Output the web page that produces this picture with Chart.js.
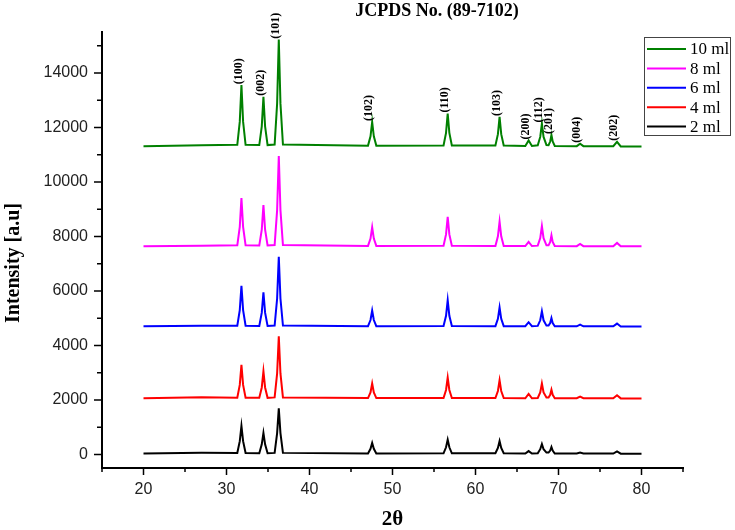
<!DOCTYPE html>
<html><head><meta charset="utf-8">
<script src="https://cdn.jsdelivr.net/npm/chart.js@4.4.0/dist/chart.umd.min.js"></script>
<style>
html,body{margin:0;padding:0;background:#fff}
#wrap{width:735px;height:530px;position:relative}
</style>
</head><body>
<div id="wrap"><canvas id="xrd"></canvas></div>
<script>
/* XRD patterns, ZnO films — volume series. Peaks. */

var ANGLES = [20, 27,
  31.3, 31.6, 31.8, 32.0, 32.3,
  33.95, 34.25, 34.45, 34.65, 34.95,
  35.8, 36.1, 36.3, 36.5, 36.8,
  47.05, 47.35, 47.55, 47.75, 48.05,
  56.15, 56.45, 56.65, 56.85, 57.15,
  62.4, 62.7, 62.9, 63.1, 63.4,
  66.0, 66.4, 66.8,
  67.5, 67.8, 68.0, 68.2, 68.55,
  68.8, 69.0, 69.15, 69.3, 69.55,
  72.2, 72.6, 73.0,
  76.6, 77.05, 77.5,
  80];

var I_10ML = [11310, 11340,
  11360, 12210, 13550, 12210, 11360,
  11350, 12040, 13120, 12040, 11350,
  11370, 12880, 15220, 12880, 11370,
  11330, 11670, 12200, 11670, 11330,
  11335, 11800, 12510, 11800, 11335,
  11335, 11750, 12385, 11750, 11335,
  11320, 11520, 11320,
  11340, 11650, 12140, 11650, 11350,
  11345, 11480, 11720, 11480, 11320,
  11310, 11400, 11310,
  11310, 11470, 11300,
  11300];

var I_8ML = [7640, 7660,
  7670, 8350, 9410, 8350, 7670,
  7665, 8245, 9150, 8245, 7665,
  7680, 8965, 10950, 8965, 7680,
  7650, 7920, 8340, 7920, 7650,
  7655, 8070, 8720, 8070, 7655,
  7650, 8000, 8540, 8000, 7650,
  7645, 7800, 7645,
  7660, 7935, 8380, 7935, 7670,
  7670, 7800, 8040, 7800, 7645,
  7640, 7720, 7640,
  7640, 7760, 7635,
  7635];

var I_6ML = [4700, 4720,
  4720, 5295, 6190, 5295, 4720,
  4715, 5200, 5950, 5200, 4715,
  4730, 5720, 7250, 5720, 4730,
  4705, 4930, 5280, 4930, 4705,
  4710, 5085, 5660, 5085, 4710,
  4705, 4975, 5390, 4975, 4705,
  4705, 4850, 4705,
  4715, 4920, 5250, 4920, 4725,
  4725, 4820, 5000, 4820, 4700,
  4700, 4760, 4700,
  4700, 4800, 4695,
  4695];

var I_4ML = [2060, 2100,
  2080, 2550, 3290, 2550, 2080,
  2075, 2455, 3050, 2455, 2075,
  2090, 2970, 4330, 2970, 2090,
  2065, 2275, 2600, 2275, 2065,
  2070, 2365, 2820, 2365, 2070,
  2070, 2325, 2720, 2325, 2070,
  2060, 2220, 2060,
  2070, 2275, 2600, 2275, 2085,
  2085, 2185, 2370, 2185, 2060,
  2060, 2120, 2060,
  2060, 2170, 2055,
  2055];

var I_2ML = [30, 60,
  50, 485, 1040, 485, 50,
  45, 370, 790, 370, 45,
  55, 780, 1690, 780, 55,
  35, 205, 420, 205, 35,
  40, 260, 540, 260, 40,
  40, 235, 490, 235, 40,
  30, 120, 30,
  40, 190, 380, 190, 65,
  65, 140, 270, 140, 30,
  30, 70, 30,
  30, 110, 25,
  25];

var SERIES = ['10 ml', '8 ml', '6 ml', '4 ml', '2 ml'];
var COLORS = ['#008000', '#ff00ff', '#0000ff', '#ff0000', '#000000'];
var HKL = ['(100)', '(002)', '(101)', '(102)', '(110)', '(103)', '(200)', '(112)', '(201)', '(004)', '(202)'];
var HKL_POS = [31.8, 34.45, 36.3, 47.55, 56.65, 62.9, 66.4, 68.0, 69.15, 72.6, 77.05];
var X_TICKS = [20, 30, 40, 50, 60, 70, 80];
var Y_TICKS = [0, 2000, 4000, 6000, 8000, 10000, 12000, 14000];

function pts(arr){ return ANGLES.map(function(a, i){ return {x:a, y:arr[i]}; }); }

var SERIF = '"Liberation Serif","Times New Roman",serif';

/* ---------- ticks, labels, legend ---------- */
var decor = {
  id:'decor',
  afterDraw:function(chart){
    var ctx = chart.ctx, xs = chart.scales.x, ys = chart.scales.y, a = chart.chartArea;
    ctx.save();
    ctx.strokeStyle = '#000'; ctx.lineWidth = 1.5;
    ctx.beginPath();
    for(var v=15; v<=85; v+=5){
      var px = xs.getPixelForValue(v);
      ctx.moveTo(px, a.bottom); ctx.lineTo(px, a.bottom + (v%10===0 ? 7 : 4));
    }
    for(var w=0; w<=15000; w+=1000){
      var py = ys.getPixelForValue(w);
      ctx.moveTo(a.left, py); ctx.lineTo(a.left - (w%2000===0 ? 8 : 5), py);
    }
    ctx.stroke();

    // hkl labels over the 10 ml pattern
    ctx.fillStyle = '#000';
    ctx.font = 'bold 12px ' + SERIF;
    ctx.textAlign = 'left'; ctx.textBaseline = 'middle';
    HKL.forEach(function(t, i){
      var k = ANGLES.indexOf(HKL_POS[i]);
      var px = xs.getPixelForValue(HKL_POS[i]) - 3, py = ys.getPixelForValue(I_10ML[k]) - 1;
      ctx.save(); ctx.translate(px, py); ctx.rotate(-Math.PI/2);
      ctx.fillText(t, 0, 0); ctx.restore();
    });

    // title + axis titles
    ctx.textAlign = 'center';
    ctx.font = 'bold 18px ' + SERIF;
    ctx.fillText('JCPDS No. (89-7102)', 437, 11);
    ctx.font = 'bold 21px ' + SERIF;
    ctx.fillText('2\u03b8', (a.left + a.right)/2, 520);
    ctx.save(); ctx.translate(14, 263); ctx.rotate(-Math.PI/2);
    ctx.font = 'bold 20px ' + SERIF;
    ctx.fillText('Intensity [a.u]', 0, 0); ctx.restore();

    // legend box
    ctx.fillStyle = '#fff';
    ctx.fillRect(644, 37, 86, 98);
    ctx.strokeStyle = '#444'; ctx.lineWidth = 1;
    ctx.strokeRect(644.5, 37.5, 86, 98);
    ctx.font = '17px ' + SERIF; ctx.textAlign = 'left'; ctx.fillStyle = '#000';
    chart.data.datasets.forEach(function(ds, i){
      var y = 49 + i*19.4;
      ctx.strokeStyle = ds.borderColor; ctx.lineWidth = 2;
      ctx.beginPath(); ctx.moveTo(647, y); ctx.lineTo(686, y); ctx.stroke();
      ctx.fillText(ds.label, 690, y + 1);
    });
    ctx.restore();
  }
};

new Chart(document.getElementById('xrd'), {
  type:'line',
  data:{ datasets:[I_10ML, I_8ML, I_6ML, I_4ML, I_2ML].map(function(arr, i){
    return { label:SERIES[i], data:pts(arr), borderColor:COLORS[i], backgroundColor:COLORS[i],
      borderWidth:2, pointRadius:0, tension:0, fill:false };
  }) },
  options:{
    responsive:true, maintainAspectRatio:false, animation:false,
    layout:{ padding:{ top:32, right:52, left:0, bottom:0 } },
    plugins:{ legend:{display:false}, title:{display:false}, tooltip:{enabled:false} },
    scales:{
      x:{ type:'linear', min:15, max:85,
        afterFit:function(s){ s.height = 62; },
        afterBuildTicks:function(s){ s.ticks = X_TICKS.map(function(v){ return {value:v}; }); },
        grid:{ display:true, drawOnChartArea:false, drawTicks:false },
        border:{ display:true, color:'#000', width:2 },
        ticks:{ padding:12, color:'#222', autoSkip:false, maxRotation:0,
          callback:function(v){ return String(v); },
          font:{ family:'"Liberation Sans", Arial, sans-serif', size:16 } } },
      y:{ type:'linear', min:-500, max:15500,
        afterFit:function(s){ s.width = 102; },
        afterBuildTicks:function(s){ s.ticks = Y_TICKS.map(function(v){ return {value:v}; }); },
        grid:{ display:true, drawOnChartArea:false, drawTicks:false },
        border:{ display:true, color:'#000', width:2 },
        ticks:{ padding:14, color:'#222', autoSkip:false,
          callback:function(v){ return String(v); },
          font:{ family:'"Liberation Sans", Arial, sans-serif', size:16 } } }
    }
  },
  plugins:[decor]
});
</script>
</body></html>
